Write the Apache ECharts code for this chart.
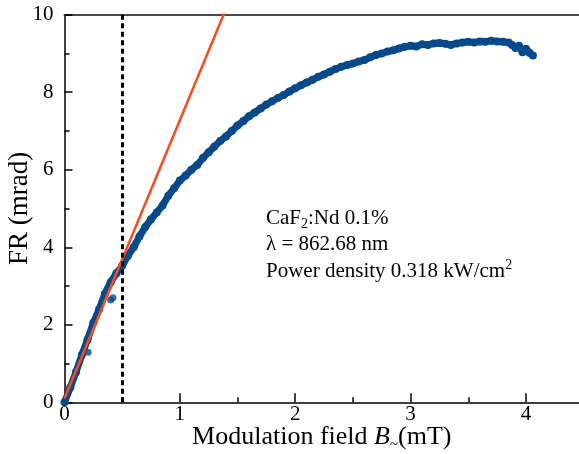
<!DOCTYPE html>
<html>
<head>
<meta charset="utf-8">
<script src="https://cdn.jsdelivr.net/npm/echarts@6/dist/echarts.min.js"></script>
<style>
  html, body { margin: 0; padding: 0; background: #fff; }
  #main { width: 579px; height: 454px; }
</style>
</head>
<body>
<div id="main"></div>
<script>
const fieldB = [
  0.00, 0.05, 0.10, 0.15, 0.20, 0.25, 0.30, 0.35, 0.40, 0.45,
  0.50, 0.55, 0.60, 0.65, 0.70, 0.75, 0.80, 0.85, 0.90, 0.95,
  1.00, 1.05, 1.10, 1.15, 1.20, 1.25, 1.30, 1.35, 1.40, 1.45,
  1.50, 1.55, 1.60, 1.65, 1.70, 1.75, 1.80, 1.85, 1.90, 1.95,
  2.00, 2.05, 2.10, 2.15, 2.20, 2.25, 2.30, 2.35, 2.40, 2.45,
  2.50, 2.55, 2.60, 2.65, 2.70, 2.75, 2.80, 2.85, 2.90, 2.95,
  3.00, 3.05, 3.10, 3.15, 3.20, 3.25, 3.30, 3.35, 3.40, 3.45,
  3.50, 3.55, 3.60, 3.65, 3.70, 3.75, 3.80, 3.85, 3.88, 3.91,
  3.94, 3.97, 4.00, 4.03, 4.06
]
const frValues = [
  0.00, 0.38, 0.78, 1.22, 1.62, 2.05, 2.40, 2.80, 3.10, 3.33,
  3.52, 3.78, 4.00, 4.28, 4.52, 4.72, 4.90, 5.08, 5.33, 5.52,
  5.72, 5.85, 6.00, 6.12, 6.30, 6.45, 6.60, 6.74, 6.86, 7.00,
  7.14, 7.26, 7.38, 7.48, 7.58, 7.68, 7.77, 7.85, 7.93, 8.02,
  8.10, 8.18, 8.25, 8.32, 8.40, 8.46, 8.53, 8.60, 8.66, 8.70,
  8.74, 8.79, 8.83, 8.90, 8.96, 9.00, 9.05, 9.08, 9.13, 9.17,
  9.20, 9.18, 9.24, 9.22, 9.26, 9.27, 9.25, 9.22, 9.26, 9.28,
  9.30, 9.28, 9.31, 9.30, 9.33, 9.31, 9.30, 9.28, 9.22, 9.14,
  9.20, 9.03, 9.12, 9.02, 8.95
]
// stray points below the curve at low field
const strayB = [0.205, 0.40, 0.42]
const strayFR = [1.29, 2.64, 2.70]
// linear fit at low field
const fitB = [0, 1.5]
const fitFR = [0.1, 10.87]
const markerB = 0.5
const xTicks = [0, 1, 2, 3, 4]
const xMinor = [0.5, 1.5, 2.5, 3.5]

const serif = 'Liberation Serif'
const zip = (a, b) => a.map((v, i) => [v, b[i]])

const chart = echarts.init(document.getElementById('main'))
chart.setOption({
  animation: false,
  grid: { left: 64.5, right: 0, top: 14.7, bottom: 51.7, containLabel: false, outerBoundsMode: 'none' },
  xAxis: [
    {
      type: 'value', position: 'bottom', min: 0, max: 4.46, interval: 1,
      splitLine: { show: false },
      axisLine: { lineStyle: { color: '#000', width: 1.5 } },
      axisTick: { inside: true, length: 9, customValues: xTicks, lineStyle: { color: '#000', width: 1.5 } },
      axisLabel: { customValues: xTicks, margin: 2, color: '#000', fontFamily: serif, fontSize: 21 },
      name: '{n|Modulation field }{i|B}{t|~}{n|(mT)}',
      nameLocation: 'middle',
      nameGap: 20,
      nameMoveOverlap: false,
      nameTextStyle: {
        color: '#000',
        rich: {
          n: { fontFamily: serif, fontSize: 26, color: '#000', lineHeight: 30 },
          i: { fontFamily: serif, fontSize: 26, fontStyle: 'italic', color: '#000', lineHeight: 30 },
          t: { fontFamily: serif, fontSize: 15, color: '#000', lineHeight: 15, verticalAlign: 'bottom' }
        }
      }
    },
    {
      type: 'value', position: 'bottom', min: 0, max: 4.46, interval: 0.5,
      splitLine: { show: false },
      axisLine: { show: false },
      axisTick: { inside: true, length: 5, customValues: xMinor, lineStyle: { color: '#000', width: 1.5 } },
      axisLabel: { show: false }
    },
    {
      type: 'value', position: 'top', min: 0, max: 4.46,
      splitLine: { show: false },
      axisLine: { lineStyle: { color: '#4a4a4a', width: 2 } },
      axisTick: { show: false },
      axisLabel: { show: false }
    }
  ],
  yAxis: {
    type: 'value', min: 0, max: 10, interval: 2,
    splitLine: { show: false },
    axisLine: { show: true, lineStyle: { color: '#000', width: 1.5 } },
    axisTick: { show: true, inside: true, length: 8, lineStyle: { color: '#000', width: 1.5 } },
    minorTick: { show: true, splitNumber: 2, length: 5, lineStyle: { color: '#000', width: 1.5 } },
    axisLabel: { margin: 11, color: '#000', fontFamily: serif, fontSize: 21 },
    name: 'FR (mrad)',
    nameLocation: 'middle',
    nameGap: 31,
    nameMoveOverlap: false,
    nameTextStyle: { color: '#000', fontFamily: serif, fontSize: 27 }
  },
  graphic: [
    {
      type: 'text', x: 266, y: 205,
      style: {
        text: '{n|CaF}{s|2}{n|:Nd 0.1%}',
        rich: {
          n: { fontFamily: serif, fontSize: 21, fill: '#000', lineHeight: 26 },
          s: { fontFamily: serif, fontSize: 14, fill: '#000', lineHeight: 14, verticalAlign: 'bottom' }
        }
      }
    },
    {
      type: 'text', x: 266, y: 234,
      style: { text: 'λ = 862.68 nm', font: '21px "Liberation Serif"', fill: '#000' }
    },
    {
      type: 'text', x: 266, y: 258,
      style: {
        text: '{n|Power density 0.318 kW/cm}{p|2}',
        rich: {
          n: { fontFamily: serif, fontSize: 21, fill: '#000', lineHeight: 26 },
          p: { fontFamily: serif, fontSize: 14, fill: '#000', lineHeight: 14, verticalAlign: 'top' }
        }
      }
    }
  ],
  series: [
    {
      type: 'line',
      data: zip(fieldB, frValues),
      symbol: 'circle', symbolSize: 8, showSymbol: true,
      itemStyle: { color: '#064a8b' },
      lineStyle: { color: '#064a8b', width: 7 },
      z: 2
    },
    {
      type: 'scatter',
      data: zip(strayB, strayFR),
      symbolSize: 7,
      itemStyle: { color: '#064a8b' },
      z: 2
    },
    {
      type: 'line',
      data: zip(fitB, fitFR),
      symbol: 'none',
      clip: true,
      lineStyle: { color: '#ff4a1a', width: 2.5 },
      z: 3,
      markLine: {
        silent: true,
        symbol: 'none',
        label: { show: false },
        lineStyle: { color: '#000', type: [5, 3.5], width: 3 },
        data: [{ xAxis: markerB }]
      }
    }
  ]
})
</script>
</body>
</html>
